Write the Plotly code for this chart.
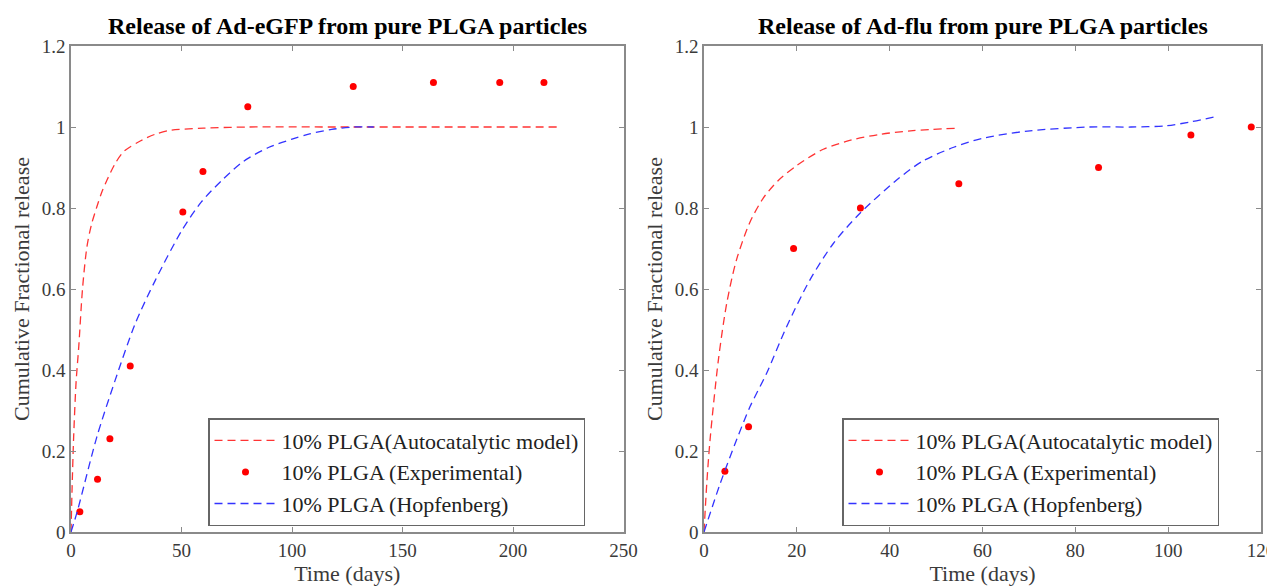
import plotly.graph_objects as go

# ---------------- Data ----------------
# Left panel: Ad-eGFP
egfp_exp_t = [4, 12, 17.6, 26.8, 50.6, 59.7, 80, 127.7, 164, 194, 214]
egfp_exp_y = [0.05, 0.13, 0.23, 0.41, 0.79, 0.89, 1.05, 1.10, 1.11, 1.11, 1.11]

egfp_auto_t = [0, 0.5, 1.2, 2.3, 3.5, 5.2, 7.2, 9.3, 11.7, 14, 16.3, 20, 24, 30.5, 38, 45, 60, 80, 120, 220]
egfp_auto_y = [0, 0.11, 0.235, 0.37, 0.457, 0.6, 0.704, 0.76, 0.803, 0.84, 0.869, 0.91, 0.94, 0.963, 0.982, 0.992, 0.997, 1.0, 1.0, 1.0]

egfp_hop_t = [0, 2.8, 11.7, 20.0, 29.1, 38.2, 50.3, 59, 68.4, 78, 89.6, 100, 108, 118, 128, 137]
egfp_hop_y = [0, 0.05, 0.235, 0.375, 0.515, 0.622, 0.746, 0.815, 0.869, 0.915, 0.95, 0.97, 0.983, 0.994, 1.0, 1.0]

# Right panel: Ad-flu
flu_exp_t = [4.5, 9.6, 19.3, 33.7, 54.9, 85, 104.9, 117.9]
flu_exp_y = [0.15, 0.26, 0.70, 0.80, 0.86, 0.90, 0.98, 1.00]

flu_auto_t = [0, 0.6, 1.3, 3.1, 4.9, 7.0, 9.9, 12.8, 16.0, 20, 25.7, 31.8, 38, 45, 54.3]
flu_auto_y = [0, 0.12, 0.227, 0.425, 0.565, 0.672, 0.765, 0.825, 0.868, 0.905, 0.945, 0.968, 0.982, 0.991, 0.997]

flu_hop_t = [0, 3.5, 7.0, 9.9, 13.5, 17.8, 22.8, 27.9, 33.6, 41.5, 47, 53.8, 60, 69.7, 83, 92, 99.6, 105, 110]
flu_hop_y = [0, 0.12, 0.227, 0.309, 0.392, 0.507, 0.622, 0.713, 0.787, 0.869, 0.915, 0.95, 0.972, 0.99, 1.0, 1.0, 1.003, 1.013, 1.025]

x_ticks_left = [0, 50, 100, 150, 200, 250]
x_ticks_right = [0, 20, 40, 60, 80, 100, 120]
y_ticks = [0, 0.2, 0.4, 0.6, 0.8, 1, 1.2]

titles = ["Release of Ad-eGFP from pure PLGA particles",
          "Release of Ad-flu from pure PLGA particles"]
names = ["10% PLGA(Autocatalytic model)", "10% PLGA (Experimental)", "10% PLGA (Hopfenberg)"]

# ---------------- Figure ----------------
OFF = 8  # the page body has an 8px margin; the figure starts at (8, 8)
W, H = 1275 - OFF, 588 - OFF
FONT = "Liberation Serif, Times New Roman, serif"
AXC = "#8a8a8a"
TXT = "#3a3a3a"

def px_x(p):
    return (p - OFF) / W

def px_y(p):
    return 1 - (p - OFF) / H

fig = go.Figure()

dash = "8px,5px"

panels = [
    (egfp_auto_t, egfp_auto_y, egfp_exp_t, egfp_exp_y, egfp_hop_t, egfp_hop_y, "x", "y", "legend"),
    (flu_auto_t, flu_auto_y, flu_exp_t, flu_exp_y, flu_hop_t, flu_hop_y, "x2", "y2", "legend2"),
]

for at, ay, et, ey, ht, hy, xa, ya, lg in panels:
    fig.add_trace(go.Scatter(x=at, y=ay, mode="lines", name=names[0], xaxis=xa, yaxis=ya,
                             legend=lg, line=dict(color="#ff3333", width=1.3, dash=dash,
                                                  shape="spline", smoothing=0.8)))
    fig.add_trace(go.Scatter(x=et, y=ey, mode="markers", name=names[1], xaxis=xa, yaxis=ya,
                             legend=lg, marker=dict(color="#ff0000", size=7)))
    fig.add_trace(go.Scatter(x=ht, y=hy, mode="lines", name=names[2], xaxis=xa, yaxis=ya,
                             legend=lg, line=dict(color="#3333ff", width=1.3, dash=dash,
                                                  shape="spline", smoothing=0.8)))

axis_common = dict(showgrid=False, zeroline=False, showline=True, linecolor=AXC, linewidth=1.5,
                   mirror="ticks", ticks="inside", ticklen=5, tickcolor=AXC, tickwidth=1,
                   automargin=False, ticklabeloverflow="allow",
                   tickfont=dict(family=FONT, size=19, color=TXT))

LX0, LX1 = 71, 623.5
RX0, RX1 = 704, 1261
YT, YB = 46, 532

AT_FONT = dict(family=FONT, size=22, color=TXT)
LEG_FONT = dict(family=FONT, size=22, color="#222222")

fig.update_layout(
    width=W, height=H,
    margin=dict(l=0, r=0, t=0, b=0, autoexpand=False),
    paper_bgcolor="white", plot_bgcolor="white",
    showlegend=True,
    xaxis=dict(domain=[px_x(LX0), px_x(LX1)], range=[0, 250], tickvals=x_ticks_left,
               title=dict(text="Time (days)", font=AT_FONT, standoff=0),
               anchor="y", **axis_common),
    yaxis=dict(domain=[px_y(YB), px_y(YT)], range=[0, 1.2], tickvals=y_ticks,
               title=dict(text="Cumulative Fractional release", font=AT_FONT, standoff=6),
               anchor="x", **axis_common),
    xaxis2=dict(domain=[px_x(RX0), px_x(RX1)], range=[0, 120], tickvals=x_ticks_right,
                title=dict(text="Time (days)", font=AT_FONT, standoff=0),
                anchor="y2", **axis_common),
    yaxis2=dict(domain=[px_y(YB), px_y(YT)], range=[0, 1.2], tickvals=y_ticks,
                title=dict(text="Cumulative Fractional release", font=AT_FONT, standoff=6),
                anchor="x2", **axis_common),
    legend=dict(x=px_x(208), y=px_y(472), xanchor="left", yanchor="middle",
                bgcolor="white", bordercolor="#666666", borderwidth=1.5,
                font=LEG_FONT, itemwidth=62, tracegroupgap=0),
    legend2=dict(x=px_x(842), y=px_y(472), xanchor="left", yanchor="middle",
                 bgcolor="white", bordercolor="#666666", borderwidth=1.5,
                 font=LEG_FONT, itemwidth=62, tracegroupgap=0),
)

fig.add_annotation(text="<b>" + titles[0] + "</b>", x=(px_x(LX0) + px_x(LX1)) / 2, y=px_y(26),
                   xref="paper", yref="paper", showarrow=False, xanchor="center", yanchor="middle",
                   font=dict(family=FONT, size=24, color="black"))
fig.add_annotation(text="<b>" + titles[1] + "</b>", x=(px_x(RX0) + px_x(RX1)) / 2, y=px_y(26),
                   xref="paper", yref="paper", showarrow=False, xanchor="center", yanchor="middle",
                   font=dict(family=FONT, size=24, color="black"))

fig.write_html("out.html")
